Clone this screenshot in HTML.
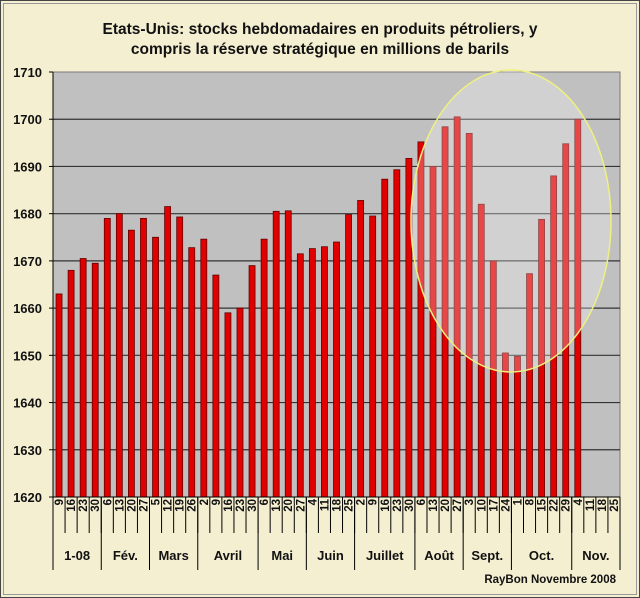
<!DOCTYPE html>
<html><head><meta charset="utf-8"><style>
html,body{margin:0;padding:0;background:#f5efd2;}
svg{display:block;font-family:"Liberation Sans",sans-serif;}
</style></head><body>
<svg id="s" width="640" height="598" viewBox="0 0 640 598" xmlns="http://www.w3.org/2000/svg">
<rect x="0.5" y="0.5" width="639" height="597" fill="#f5efd2" stroke="#444"/>
<rect x="3.5" y="3.5" width="633" height="591" fill="none" stroke="#999"/>
<text x="320" y="34" text-anchor="middle" font-size="15.5" font-weight="bold" fill="#111">Etats-Unis: stocks hebdomadaires en produits pétroliers, y</text>
<text x="320" y="54" text-anchor="middle" font-size="15.5" font-weight="bold" fill="#111">compris la réserve stratégique  en millions de barils</text>
<rect x="53" y="72" width="567" height="425" fill="#c0c0c0" stroke="#777"/>
<g id="g"></g>
<text x="616" y="583" text-anchor="end" font-size="11.5" font-weight="bold" fill="#111">RayBon Novembre 2008</text>
</svg>
<script>
var g=document.getElementById('g'),h='';
var L=53,R=620,T=72,B=497,n=47,w=(R-L)/n;
function y(v){return B-(v-1620)*(B-T)/90;}
for(var v=1620;v<=1710;v+=10){var yy=y(v);
 if(v>1620&&v<1710)h+='<line x1="53" x2="620" y1="'+yy+'" y2="'+yy+'" stroke="#333" stroke-width="1.2"/>';
 h+='<line x1="49" x2="53" y1="'+yy+'" y2="'+yy+'" stroke="#000"/>';
 h+='<text x="42" y="'+(yy+5)+'" text-anchor="end" font-size="13" font-weight="bold" fill="#111">'+v+'</text>';}
var d=[1663,1668,1670.5,1669.5,1679,1680,1676.5,1679,1675,1681.5,1679.3,1672.8,1674.6,1667,1659,1660,1669,1674.6,1680.5,1680.6,1671.5,1672.6,1673,1674,1679.8,1682.8,1679.5,1687.3,1689.3,1691.7,1695.2,1690,1698.4,1700.5,1697,1682,1670,1650.5,1649.8,1667.3,1678.8,1688,1694.8,1700];
for(var i=0;i<d.length;i++){var cx=L+w*(i+0.5),t=y(d[i]);
 h+='<rect x="'+(cx-3)+'" y="'+t+'" width="6" height="'+(B-t)+'" fill="#e00000" stroke="#600" stroke-width="0.8"/>';}
h+='<ellipse cx="511" cy="221" rx="100" ry="151" fill="rgba(255,255,255,0.28)" stroke="#f0f080" stroke-width="1.5"/>';
h+='<line x1="53" x2="53" y1="72" y2="497" stroke="#000"/><line x1="53" x2="620" y1="497" y2="497" stroke="#000"/>';
var wk=['9','16','23','30','6','13','20','27','5','12','19','26','2','9','16','23','30','6','13','20','27','4','11','18','25','2','9','16','23','30','6','13','20','27','3','10','17','24','1','8','15','22','29','4','11','18','25'];
for(var i=0;i<n;i++){var cx=L+w*(i+0.5);
 h+='<text transform="translate('+(cx+4)+',499) rotate(-90)" text-anchor="end" font-size="11.5" font-weight="bold" fill="#111">'+wk[i]+'</text>';}
for(var i=0;i<=n;i++){var x=L+w*i;h+='<line x1="'+x+'" x2="'+x+'" y1="497" y2="533" stroke="#000"/>';}
var m=[['1-08',4],['Fév.',4],['Mars',4],['Avril',5],['Mai',4],['Juin',4],['Juillet',5],['Août',4],['Sept.',4],['Oct.',5],['Nov.',4]],k=0;
h+='<line x1="53" x2="53" y1="497" y2="570" stroke="#000"/>';
for(var j=0;j<m.length;j++){var x0=L+w*k;k+=m[j][1];var x1=L+w*k;
 h+='<line x1="'+x1+'" x2="'+x1+'" y1="497" y2="570" stroke="#000"/>';
 h+='<text x="'+((x0+x1)/2)+'" y="560" text-anchor="middle" font-size="13" font-weight="bold" fill="#111">'+m[j][0]+'</text>';}
g.innerHTML=h;
</script>
</body></html>
